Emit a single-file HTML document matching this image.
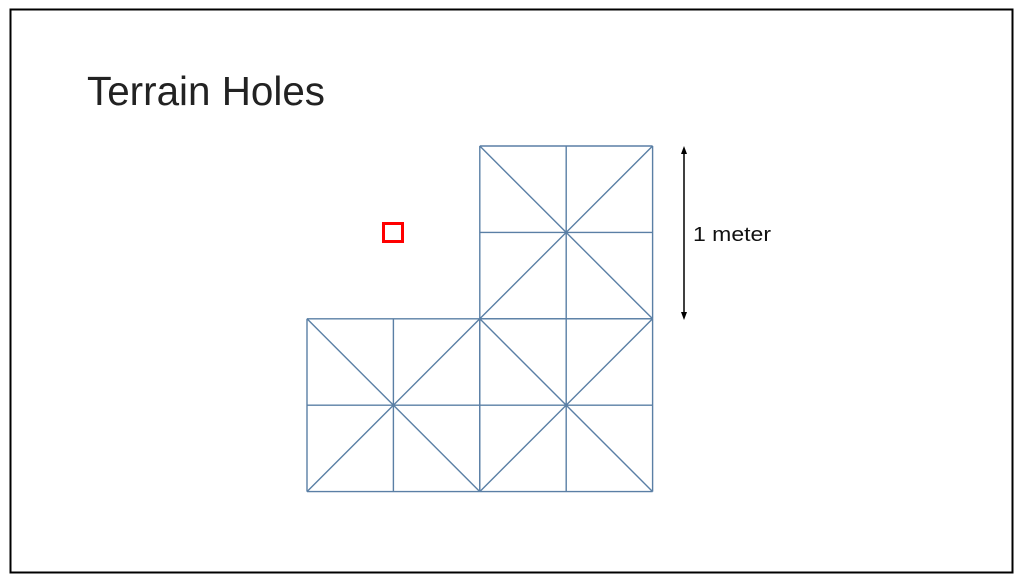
<!DOCTYPE html>
<html><head><meta charset="utf-8"><style>
html,body{margin:0;padding:0;background:#fff;}
svg{display:block;font-family:"Liberation Sans",sans-serif;}
</style></head><body>
<svg width="1024" height="583" viewBox="0 0 1024 583">
<rect x="10.5" y="9.5" width="1002" height="563" fill="#fff" stroke="#000" stroke-width="2"/>
<text x="87" y="105" font-size="41" fill="#222" textLength="238" lengthAdjust="spacingAndGlyphs">Terrain Holes</text>
<g id="mesh" stroke="#5a7fa5" stroke-width="1.4" fill="none"></g>
<rect x="383.5" y="223.5" width="19" height="18" fill="none" stroke="#f00" stroke-width="3"/>
<g>
<line x1="684" y1="152" x2="684" y2="314" stroke="#000" stroke-width="1.5"/>
<polygon points="684,146 681,154 687,154" fill="#000"/>
<polygon points="684,320 681,312 687,312" fill="#000"/>
</g>
<text x="693" y="241" font-size="20" fill="#111" textLength="78" lengthAdjust="spacingAndGlyphs">1 meter</text>
</svg>
<script>
// patches (in grid units): column, row; each patch is 2x2 cells with an X
const patchCols = [1, 0, 1];
const patchRows = [0, 1, 1];
const x0 = 307, y0 = 146, cell = 86.4;
const sx = c => x0 + c * cell;
const sy = r => y0 + r * cell;
const g = document.getElementById('mesh');
function ln(a, b, c, d, name) {
  const l = document.createElementNS('http://www.w3.org/2000/svg', 'line');
  l.setAttribute('x1', a); l.setAttribute('y1', b); l.setAttribute('x2', c); l.setAttribute('y2', d);
  
  
  g.appendChild(l);
}
for (let i = 0; i < patchCols.length; i++) {
  const c = patchCols[i] * 2, r = patchRows[i] * 2;
  for (let k = 0; k <= 2; k++) {
    ln(sx(c + k), sy(r), sx(c + k), sy(r + 2), 'mesh-vertical-edge');
    ln(sx(c), sy(r + k), sx(c + 2), sy(r + k), 'mesh-horizontal-edge');
  }
  ln(sx(c), sy(r), sx(c + 2), sy(r + 2), 'mesh-diagonal');
  ln(sx(c + 2), sy(r), sx(c), sy(r + 2), 'mesh-diagonal');
}
</script>
</body></html>
